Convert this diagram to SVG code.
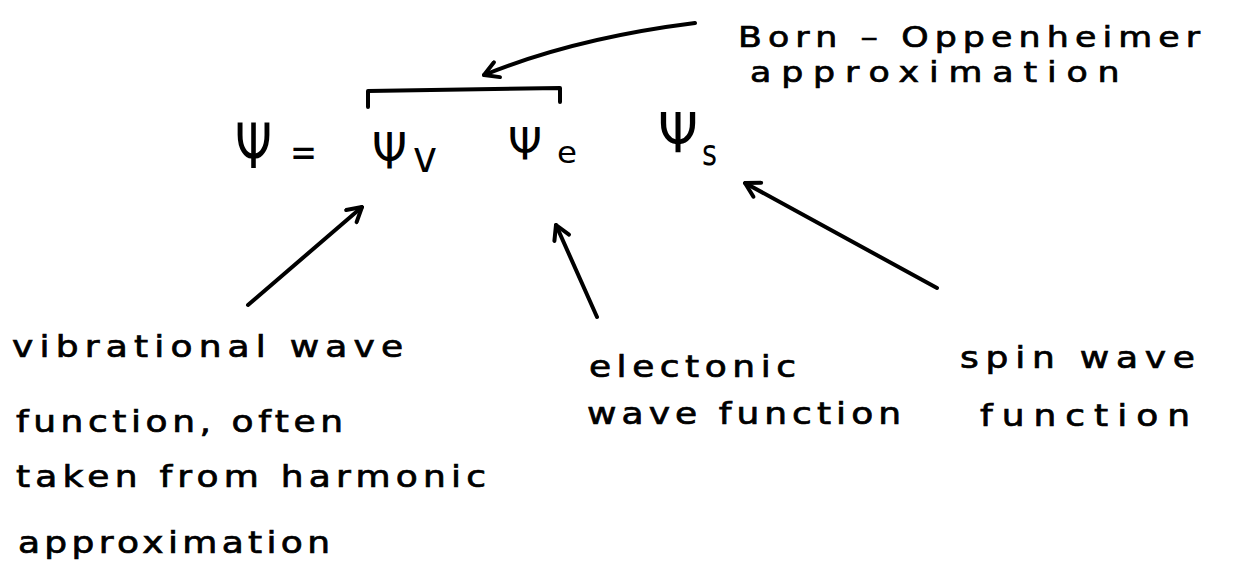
<svg xmlns="http://www.w3.org/2000/svg" width="1233" height="579" viewBox="0 0 1233 579">
  <defs>
    <style>
      .hand { font-family: "DejaVu Sans", "Liberation Sans", sans-serif; fill: #000; stroke: #000; stroke-width: 0.7; }
      .note { font-size: 30px; }
      .psi { font-family: "DejaVu Sans", "Liberation Sans", sans-serif; fill: #000; }
      .ink { fill: none; stroke: #000; stroke-width: 4; stroke-linecap: round; stroke-linejoin: round; }
    </style>
    <!-- open two-barb arrowhead, tip at the path end -->
    <marker id="head" viewBox="0 0 20 20" refX="18" refY="10" markerWidth="20" markerHeight="20" markerUnits="userSpaceOnUse" orient="auto">
      <path d="M4,2 L18,10 L4,18" fill="none" stroke="#000" stroke-width="4" stroke-linecap="round" stroke-linejoin="round"/>
    </marker>
  </defs>
  <rect width="1233" height="579" fill="#fff"/>

  <!-- wave function product -->
  <g id="equation">
    <text class="psi" x="235" y="168" font-size="62" textLength="37" lengthAdjust="spacingAndGlyphs">Ψ</text>
    <text class="psi" x="290" y="166" font-size="40" textLength="27" lengthAdjust="spacingAndGlyphs">=</text>
  </g>
  <g id="psi-v">
    <text class="psi" x="372" y="168" font-size="50" textLength="35" lengthAdjust="spacingAndGlyphs">Ψ</text>
    <text class="psi" x="413" y="172" font-size="44" textLength="24" lengthAdjust="spacingAndGlyphs">v</text>
  </g>
  <g id="psi-e">
    <text class="psi" x="508" y="160" font-size="44" textLength="34" lengthAdjust="spacingAndGlyphs">Ψ</text>
    <text class="psi" x="557" y="163" font-size="30" textLength="20" lengthAdjust="spacingAndGlyphs">e</text>
  </g>
  <g id="psi-s">
    <text class="psi" x="658" y="152" font-size="55" textLength="40" lengthAdjust="spacingAndGlyphs">Ψ</text>
    <text class="psi" x="702" y="165" font-size="36" textLength="15" lengthAdjust="spacingAndGlyphs">s</text>
  </g>

  <!-- bracket over the first two factors -->
  <g id="bracket">
    <path class="ink" d="M368,107 L368,91 L560,88 L560,102"/>
  </g>

  <!-- labels: glyphs widened 1.2x to give the broad handwritten letter shapes -->
  <g id="born-oppenheimer" transform="scale(1.2,1)">
    <text class="hand" x="615" y="47" font-size="29" textLength="385" lengthAdjust="spacing">Born – Oppenheimer</text>
    <text class="hand" x="625" y="82" font-size="29" textLength="308" lengthAdjust="spacing">approximation</text>
  </g>
  <g id="vibrational" transform="scale(1.2,1)">
    <text class="hand note" x="10" y="357" textLength="326" lengthAdjust="spacing">vibrational wave</text>
    <text class="hand note" x="13.3" y="432" textLength="272.5" lengthAdjust="spacing">function, often</text>
    <text class="hand note" x="13.3" y="487" textLength="391.7" lengthAdjust="spacing">taken from harmonic</text>
    <text class="hand note" x="15" y="553" textLength="260" lengthAdjust="spacing">approximation</text>
  </g>
  <g id="electronic" transform="scale(1.2,1)">
    <text class="hand note" x="490.8" y="377" textLength="172.5" lengthAdjust="spacing">electonic</text>
    <text class="hand note" x="489.2" y="424" textLength="261.7" lengthAdjust="spacing">wave function</text>
  </g>
  <g id="spin" transform="scale(1.2,1)">
    <text class="hand note" x="800" y="368" textLength="195.8" lengthAdjust="spacing">spin wave</text>
    <text class="hand note" x="816.7" y="426" textLength="175" lengthAdjust="spacing">function</text>
  </g>

  <!-- connectors -->
  <g id="connectors">
    <path class="ink" d="M695,23 Q575,38 484,75" marker-end="url(#head)"/>
    <path class="ink" d="M248,305 L362,207" marker-end="url(#head)"/>
    <path class="ink" d="M597,317 L556,225" marker-end="url(#head)"/>
    <path class="ink" d="M937,288 L745,183" marker-end="url(#head)"/>
  </g>
</svg>
